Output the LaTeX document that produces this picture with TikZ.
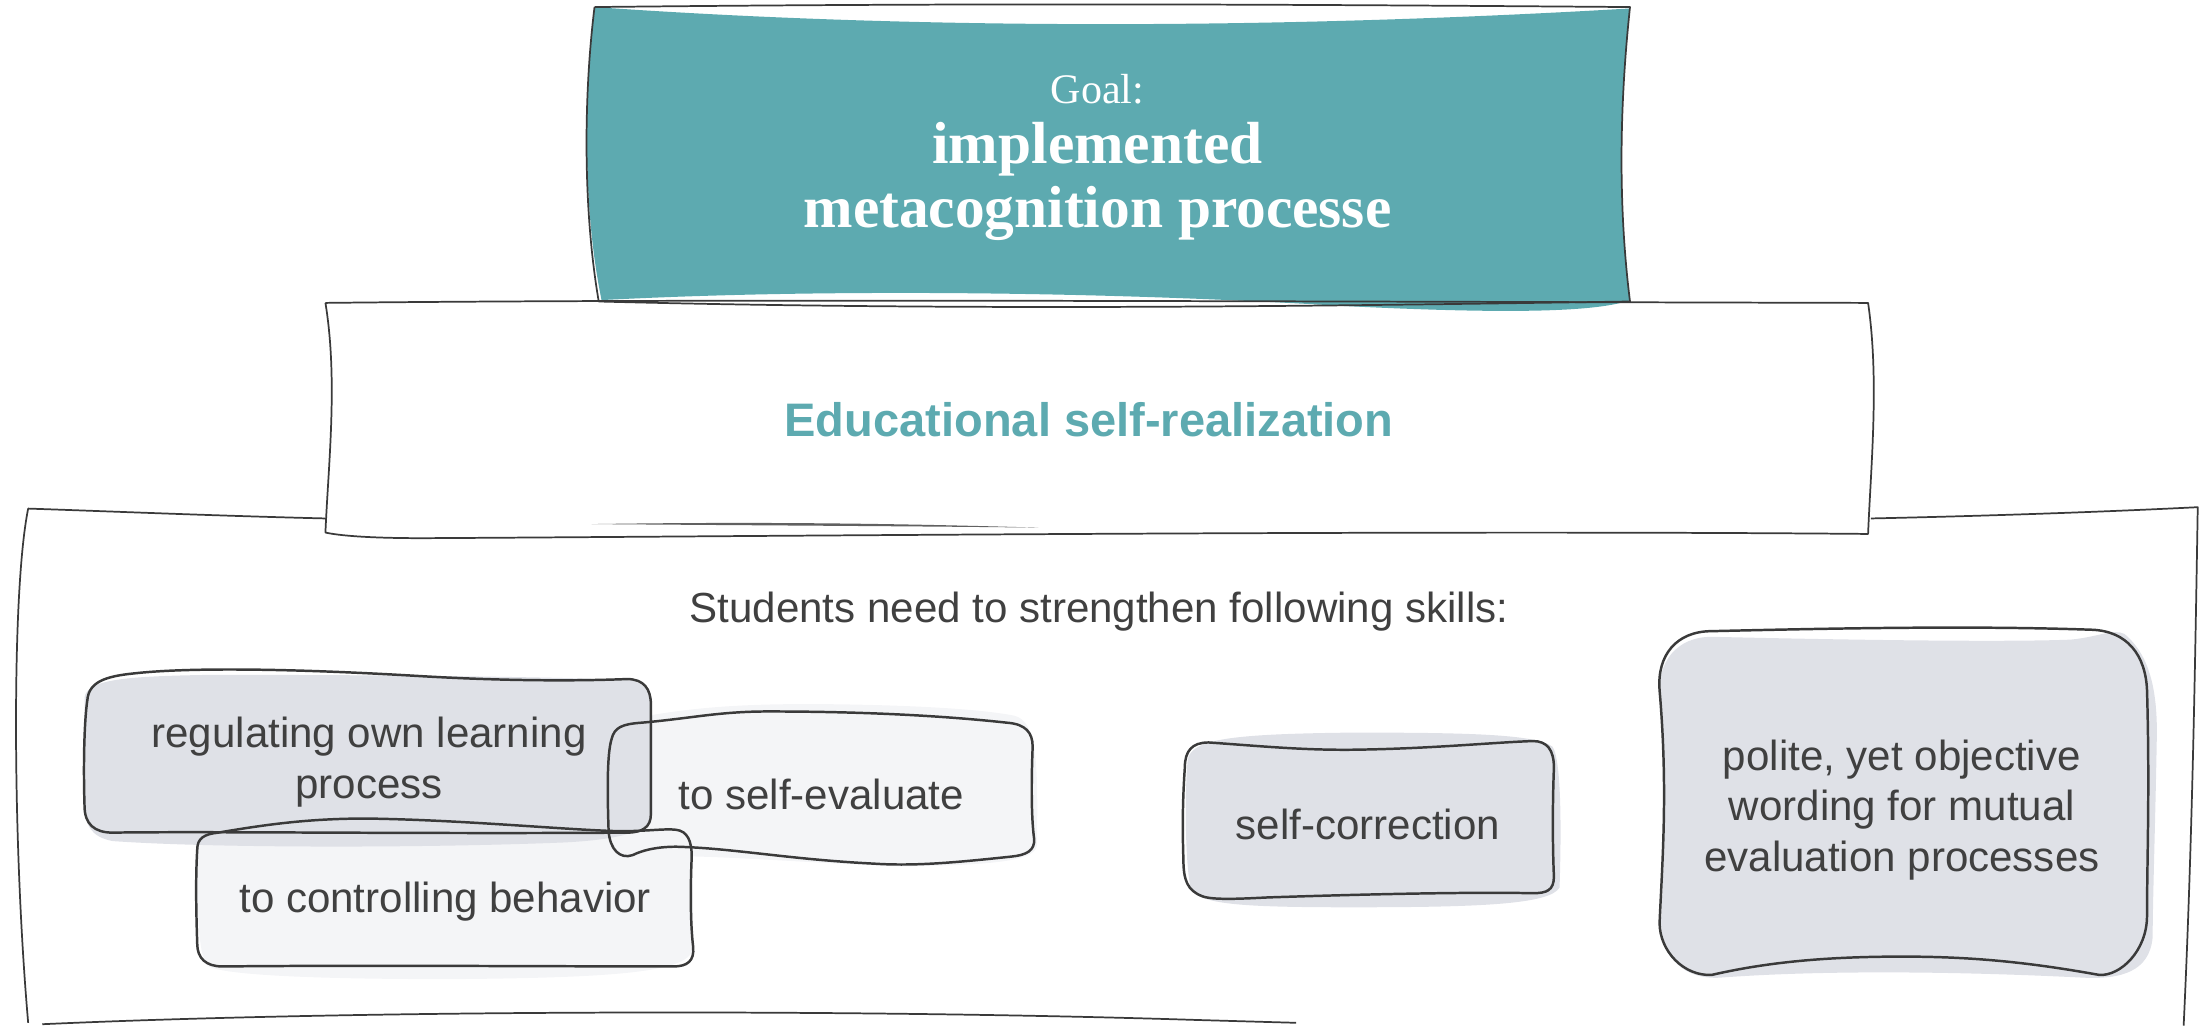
\documentclass[tikz,border=0pt]{standalone}
\usepackage{fontspec}
\setmainfont{Liberation Sans}
\newfontfamily\goalfont{Liberation Serif}
\usepackage{tikz}
\usetikzlibrary{positioning}

\definecolor{goalteal}{HTML}{5DAAB0}
\definecolor{skillgray}{HTML}{DFE1E7}
\definecolor{skilllight}{HTML}{F4F5F7}
\definecolor{inkgray}{HTML}{3A3A3A}
\definecolor{textgray}{HTML}{404040}

\begin{document}
\begin{tikzpicture}[x=0.02cm, y=-0.02cm,
    frame/.style={draw=inkgray, line width=0.7pt, line join=round},
    skillframe/.style={draw=inkgray, line width=1pt, line join=round},
    skilltext/.style={text=textgray, align=center, font=\fontsize{17}{20.5}\selectfont}]

    \useasboundingbox (0,0) rectangle (1568,728);

    % Goal banner
    \fill[goalteal] (422,5) .. controls (650,21) and (900,21) .. (1157,6)
        .. controls (1149,80) and (1149,150) .. (1157,213)
        .. controls (1130,223) and (1050,222) .. (950,217)
        .. controls (800,208) and (600,204) .. (427,213)
        .. controls (414,150) and (414,70) .. (422,5) -- cycle;
    \draw[frame] (422,5) .. controls (700,2) and (900,3) .. (1157,5)
        .. controls (1149,80) and (1149,150) .. (1157,214)
        .. controls (950,217) and (700,221) .. (425,214)
        .. controls (414,150) and (414,70) .. (422,5);

    % Middle box
    \draw[frame] (231,215) .. controls (500,212) and (900,214) .. (1326,215)
        .. controls (1334,270) and (1328,330) .. (1326,379)
        .. controls (1000,376) and (500,381) .. (300,382)
        .. controls (260,382) and (240,380) .. (231,378)
        .. controls (233,330) and (240,270) .. (231,215);
    \fill[inkgray, opacity=0.8] (420,372) .. controls (550,370) and (650,372) .. (737,374.5)
        .. controls (650,373.5) and (550,373) .. (420,372) -- cycle;

    % Bottom box
    \draw[frame] (231,368) .. controls (150,366) and (80,363) .. (20,361)
        .. controls (8,420) and (9,600) .. (20,726);
    \draw[frame] (30,727) .. controls (250,717) and (600,716) .. (850,724) -- (920,726);
    \draw[frame] (1328,368) .. controls (1420,366) and (1500,363) .. (1560,360)
        .. controls (1558,480) and (1556,600) .. (1550,728);

    % Skill box fills
    \fill[skilllight] (432,585) .. controls (430,540) and (430,515) .. (460,508)
        .. controls (500,501) and (540,499) .. (600,500)
        .. controls (660,501) and (700,504) .. (720,508)
        .. controls (736,512) and (737,540) .. (736,600)
        .. controls (735,612) and (700,614) .. (640,615)
        .. controls (560,612) and (500,606) .. (450,608)
        .. controls (436,608) and (433,600) .. (432,585) -- cycle;
    \fill[skilllight] (140,603) .. controls (140,590) and (180,586) .. (250,585)
        .. controls (350,586) and (440,590) .. (480,591)
        .. controls (492,592) and (492,620) .. (492,672)
        .. controls (492,690) and (440,694) .. (320,695)
        .. controls (220,695) and (160,692) .. (148,686)
        .. controls (140,680) and (140,640) .. (140,603) -- cycle;
    \fill[skillgray] (60,495) .. controls (62,482) and (90,480) .. (150,479)
        .. controls (300,479) and (420,481) .. (448,483)
        .. controls (460,485) and (463,495) .. (463,510)
        -- (463,578) .. controls (462,590) and (440,596) .. (400,598)
        .. controls (300,602) and (150,602) .. (80,597)
        .. controls (64,594) and (60,585) .. (60,570) -- cycle;
    \fill[skillgray] (843,540) .. controls (845,525) and (870,521) .. (960,520)
        .. controls (1040,520) and (1090,521) .. (1102,530)
        .. controls (1109,540) and (1108,600) .. (1107,630)
        .. controls (1100,642) and (1050,644) .. (960,644)
        .. controls (880,644) and (850,642) .. (845,630)
        .. controls (841,610) and (841,560) .. (843,540) -- cycle;
    \fill[skillgray] (1178,495) .. controls (1176,470) and (1190,452) .. (1215,452)
        .. controls (1300,454) and (1420,456) .. (1470,454)
        .. controls (1490,452) and (1500,446) .. (1508,450)
        .. controls (1526,465) and (1531,490) .. (1531,520)
        .. controls (1530,580) and (1528,640) .. (1528,665)
        .. controls (1526,690) and (1505,695) .. (1480,694)
        .. controls (1400,690) and (1300,688) .. (1220,694)
        .. controls (1195,695) and (1180,680) .. (1179,655)
        .. controls (1181,610) and (1184,560) .. (1178,495) -- cycle;

    % Skill box outlines
    \draw[skillframe] (62,497) .. controls (63,484) and (75,480) .. (95,478)
        .. controls (130,474) and (200,474) .. (300,480)
        .. controls (370,484) and (420,483) .. (445,482)
        .. controls (457,482) and (462,489) .. (462,500)
        -- (462,578) .. controls (462,587) and (456,591) .. (445,591)
        .. controls (300,592) and (150,590) .. (80,591)
        .. controls (67,591) and (60,585) .. (60,572)
        .. controls (59,540) and (60,510) .. (62,497) -- cycle;
    \draw[skillframe] (432,590) .. controls (431,560) and (431,535) .. (434,525)
        .. controls (436,516) and (442,514) .. (455,513)
        .. controls (490,510) and (510,505) .. (545,505)
        .. controls (600,505) and (660,507) .. (715,513)
        .. controls (728,514) and (733,520) .. (733,530)
        .. controls (732,555) and (732,580) .. (734,595)
        .. controls (735,604) and (728,607) .. (718,608)
        .. controls (680,612) and (650,615) .. (620,613)
        .. controls (560,610) and (520,602) .. (480,601)
        .. controls (465,601) and (455,604) .. (449,607)
        .. controls (440,610) and (433,603) .. (432,590) -- cycle;
    \draw[skillframe] (140,603) .. controls (140,595) and (145,592) .. (155,591)
        .. controls (190,585) and (220,581) .. (260,581)
        .. controls (330,582) and (400,589) .. (440,590)
        .. controls (460,590) and (472,588) .. (480,589)
        .. controls (488,590) and (491,597) .. (491,608)
        .. controls (490,630) and (490,655) .. (492,672)
        .. controls (493,682) and (488,686) .. (478,686)
        .. controls (400,686) and (250,685) .. (158,686)
        .. controls (146,686) and (140,680) .. (140,670)
        .. controls (139,640) and (139,620) .. (140,603) -- cycle;
    \draw[skillframe] (841,545) .. controls (841,533) and (846,527) .. (858,527)
        .. controls (900,530) and (930,533) .. (970,532)
        .. controls (1020,531) and (1060,527) .. (1088,526)
        .. controls (1098,526) and (1103,532) .. (1103,545)
        .. controls (1102,570) and (1102,600) .. (1103,622)
        .. controls (1103,632) and (1098,634) .. (1088,634)
        .. controls (1040,633) and (960,635) .. (900,637)
        .. controls (880,638) and (860,639) .. (853,636)
        .. controls (843,632) and (840,625) .. (840,610)
        .. controls (839,580) and (840,560) .. (841,545) -- cycle;
    \draw[skillframe] (1178,490) .. controls (1176,465) and (1190,448) .. (1215,448)
        .. controls (1300,446) and (1400,444) .. (1485,447)
        .. controls (1510,448) and (1523,465) .. (1524,490)
        .. controls (1526,560) and (1524,610) .. (1524,650)
        .. controls (1524,675) and (1505,693) .. (1490,692)
        .. controls (1440,683) and (1400,679) .. (1350,679)
        .. controls (1290,679) and (1250,684) .. (1215,692)
        .. controls (1195,693) and (1178,675) .. (1178,655)
        .. controls (1180,610) and (1184,560) .. (1178,490) -- cycle;

    % Labels
    \node[text=white, font=\goalfont\fontsize{17}{20}\selectfont] (goaltitle) at (779,63) {Goal:};
    \node[text=white, align=center, font=\goalfont\bfseries\fontsize{24}{26}\selectfont] (goaltext) at (779,129)
        {implemented\\metacognition processe};
    \node[text=goalteal, font=\bfseries\fontsize{19}{22}\selectfont] (realization) at (773,298)
        {Educational self-realization};
    \node[skilltext] (skills) at (780,434) {Students need to strengthen following skills:};
    \node[skilltext] (regulating) at (262,541) {regulating own learning\\process};
    \node[skilltext] (selfeval) at (583,564) {to self-evaluate};
    \node[skilltext] (controlling) at (316,640) {to controlling behavior};
    \node[skilltext] (correction) at (971,585) {self-correction};
    \node[skilltext] (polite) at (1350,575) {polite, yet objective\\wording for mutual\\evaluation processes};
\end{tikzpicture}
\end{document}
